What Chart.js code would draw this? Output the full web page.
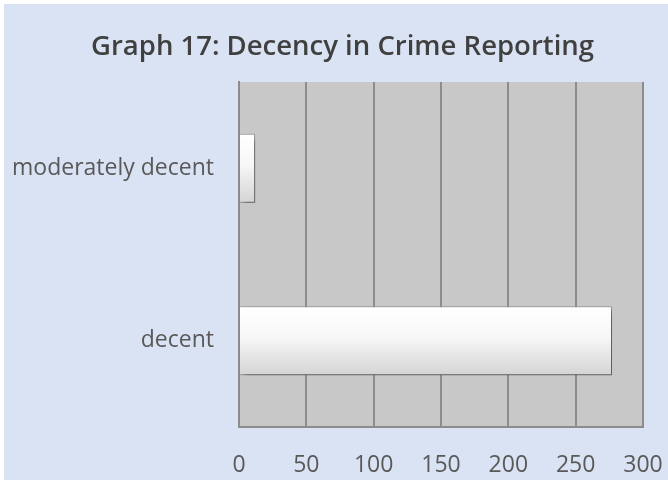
<!DOCTYPE html>
<html>
<head>
<meta charset="utf-8">
<script src="https://cdn.jsdelivr.net/npm/chart.js@4/dist/chart.umd.min.js"></script>
<style>
  html, body { margin: 0; padding: 0; background: #fff; }
  #wrap { position: absolute; left: 4px; top: 4px; width: 664px; height: 476px; background: #dae3f3; }
</style>
</head>
<body>
<div id="wrap"><canvas id="myChart"></canvas></div>
<script>
let categories = ["moderately decent", "decent"];
let counts = [12, 277];
let xTicks = [0, 50, 100, 150, 200, 250, 300];

const BAR_PCT = 0.4;

// grey plot area behind the grid
const plotBg = {
    id: "plotBg",
    beforeDraw(chart) {
        const { ctx, chartArea: a } = chart;
        ctx.save();
        ctx.fillStyle = "#c8c8c8";
        ctx.fillRect(a.left, a.top, a.right - a.left, a.bottom - a.top);
        ctx.restore();
    }
};

// the title sits a little right of the canvas centre in the original
const titleNudge = {
    id: "titleNudge",
    afterLayout(chart) {
        const t = chart.titleBlock;
        if (t) { t.left += 17; t.right += 17; }
    }
};

// soft shadow under the bars
const barShadow = {
    id: "barShadow",
    beforeDatasetsDraw(chart) {
        const ctx = chart.ctx;
        ctx.save();
        ctx.shadowColor = "rgba(0,0,0,0.5)";
        ctx.shadowBlur = 6;
        ctx.shadowOffsetX = 3;
        ctx.shadowOffsetY = 4;
    },
    afterDatasetsDraw(chart) {
        chart.ctx.restore();
    }
};

function barFill(c) {
    const chart = c.chart;
    const y = chart.scales.y;
    if (!y || c.dataIndex === undefined) return "#f2f2f2";
    const mid = y.getPixelForValue(c.dataIndex);
    const half = (y.height / categories.length) * BAR_PCT / 2;
    if (!isFinite(mid) || !isFinite(half) || half <= 0) return "#f2f2f2";
    const g = chart.ctx.createLinearGradient(0, mid - half, 0, mid + half);
    g.addColorStop(0, "#ffffff");
    g.addColorStop(0.45, "#f7f7f7");
    g.addColorStop(1, "#d4d4d4");
    return g;
}

let myChart = document.getElementById("myChart").getContext("2d");

let decencyChart = new Chart(myChart, {
    type: "bar",
    data: {
        labels: categories,
        datasets: [
            {
                label: "Decency",
                data: counts,
                backgroundColor: barFill,
                borderColor: "#9a9a9a",
                borderWidth: 1,
                barPercentage: BAR_PCT,
                categoryPercentage: 1
            }
        ]
    },
    options: {
        indexAxis: "y",
        responsive: true,
        maintainAspectRatio: false,
        animation: false,
        layout: { padding: { left: 4, right: 25, top: 0, bottom: 0 } },
        plugins: {
            legend: { display: false },
            tooltip: { enabled: false },
            title: {
                display: true,
                text: "Graph 17: Decency in Crime Reporting",
                color: "#404040",
                font: { family: "'Open Sans'", size: 27.5, weight: "600" },
                padding: { top: 27, bottom: 18 }
            }
        },
        scales: {
            x: {
                min: 0,
                max: 300,
                afterBuildTicks: s => { s.ticks = xTicks.map(v => ({ value: v })); },
                afterFit: s => { s.height = 53; s.paddingLeft = 0; s.paddingRight = 0; },
                grid: { color: "#8c8c8c", lineWidth: 2, drawTicks: false },
                border: { display: true, color: "#8c8c8c", width: 2 },
                ticks: {
                    color: "#595959",
                    font: { family: "'Open Sans'", size: 23 },
                    padding: 25,
                    maxRotation: 0
                }
            },
            y: {
                afterFit: s => { s.width = 231; },
                grid: { display: false, drawTicks: false },
                border: { display: true, color: "#8c8c8c", width: 2 },
                ticks: {
                    color: "#595959",
                    font: { family: "'Open Sans'", size: 23 },
                    padding: 25
                }
            }
        }
    },
    plugins: [plotBg, titleNudge, barShadow]
});
</script>
</body>
</html>
